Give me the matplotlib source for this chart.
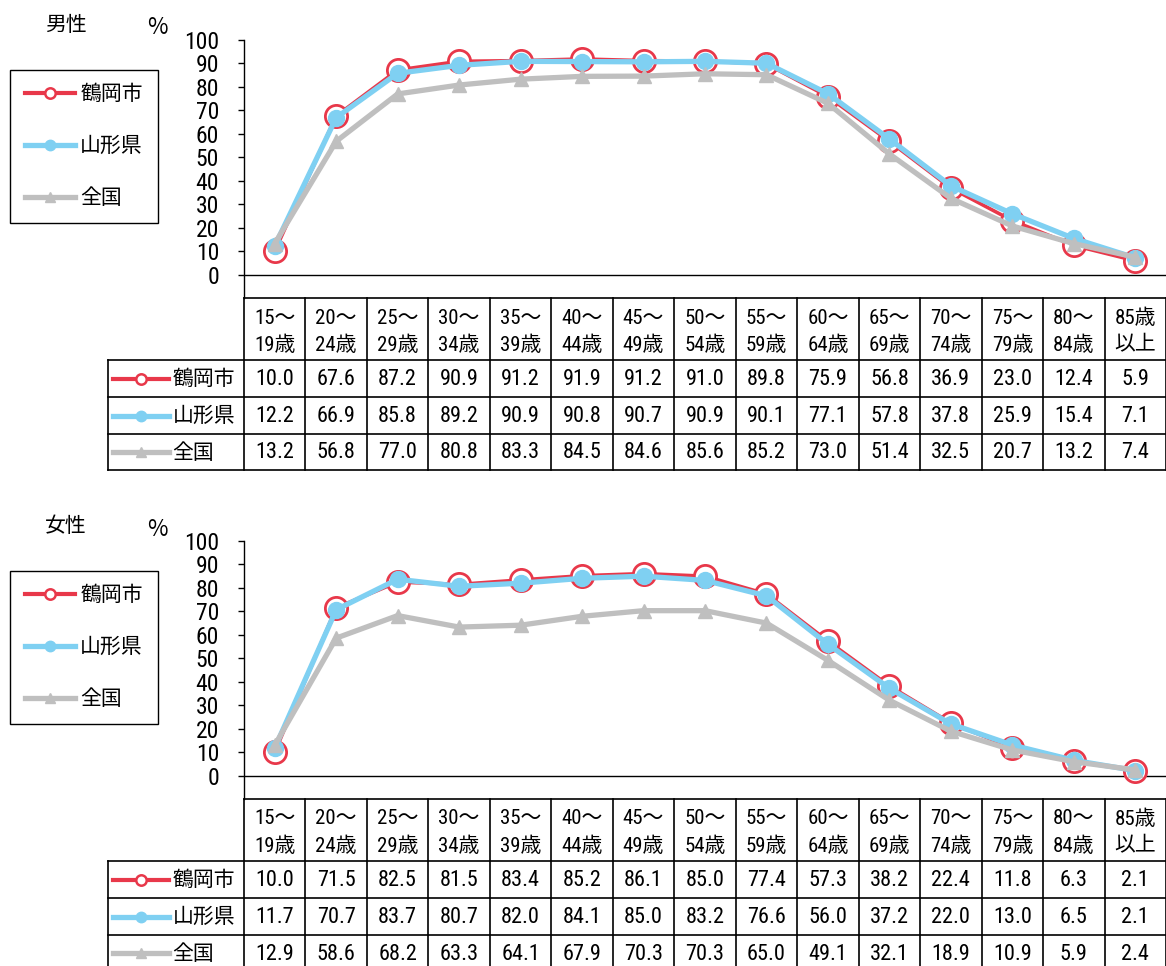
import matplotlib
matplotlib.use('Agg')
import matplotlib.pyplot as plt
from matplotlib import font_manager
from matplotlib.lines import Line2D

# pick a narrow latin face if there is one, CJK glyphs from Noto
have = {f.name for f in font_manager.fontManager.ttflist}
narrow = [f for f in ['Liberation Sans Narrow', 'Roboto Condensed', 'Open Sans Condensed',
                      'DejaVu Sans Condensed'] if f in have]
plt.rcParams['font.family'] = narrow[:1] + ['Noto Sans CJK JP']
if not narrow and any(f.name == 'DejaVu Sans' and f.stretch == 'condensed'
                      for f in font_manager.fontManager.ttflist):
    plt.rcParams['font.family'] = ['DejaVu Sans', 'Noto Sans CJK JP']
    plt.rcParams['font.stretch'] = 'condensed'

# Age groups (two-line header of the table)
age_top = ['15～', '20～', '25～', '30～', '35～', '40～', '45～', '50～',
           '55～', '60～', '65～', '70～', '75～', '80～', '85歳']
age_bot = ['19歳', '24歳', '29歳', '34歳', '39歳', '44歳', '49歳', '54歳',
           '59歳', '64歳', '69歳', '74歳', '79歳', '84歳', '以上']
names = ['鶴岡市', '山形県', '全国']

# 男性
male_tsuruoka = [10.0, 67.6, 87.2, 90.9, 91.2, 91.9, 91.2, 91.0, 89.8, 75.9, 56.8, 36.9, 23.0, 12.4, 5.9]
male_yamagata = [12.2, 66.9, 85.8, 89.2, 90.9, 90.8, 90.7, 90.9, 90.1, 77.1, 57.8, 37.8, 25.9, 15.4, 7.1]
male_zenkoku = [13.2, 56.8, 77.0, 80.8, 83.3, 84.5, 84.6, 85.6, 85.2, 73.0, 51.4, 32.5, 20.7, 13.2, 7.4]

# 女性
female_tsuruoka = [10.0, 71.5, 82.5, 81.5, 83.4, 85.2, 86.1, 85.0, 77.4, 57.3, 38.2, 22.4, 11.8, 6.3, 2.1]
female_yamagata = [11.7, 70.7, 83.7, 80.7, 82.0, 84.1, 85.0, 83.2, 76.6, 56.0, 37.2, 22.0, 13.0, 6.5, 2.1]
female_zenkoku = [12.9, 58.6, 68.2, 63.3, 64.1, 67.9, 70.3, 70.3, 65.0, 49.1, 32.1, 18.9, 10.9, 5.9, 2.4]

RED = '#E8384A'
BLUE = '#7FD0F2'
GRAY = '#BFBFBF'

W, H = 1166, 966
fig = plt.figure(figsize=(W / 100, H / 100), dpi=100)


def px_axes(x0, y0, x1, y1):
    return fig.add_axes([x0 / W, 1 - y1 / H, (x1 - x0) / W, (y1 - y0) / H])


styles = [
    dict(color=RED, lw=2.6, marker='o', ms=16, mfc='white', mec=RED, mew=2.0),
    dict(color=BLUE, lw=3.8, marker='o', ms=11.5, mfc=BLUE, mec=BLUE),
    dict(color=GRAY, lw=3.8, marker='^', ms=10, mfc=GRAY, mec=GRAY),
]
small = [
    dict(color=RED, lw=3.0, marker='o', ms=7.5, mfc='white', mec=RED, mew=1.8),
    dict(color=BLUE, lw=3.8, marker='o', ms=7.5, mfc=BLUE, mec=BLUE),
    dict(color=GRAY, lw=3.8, marker='^', ms=7, mfc=GRAY, mec=GRAY),
]


def panel(top, title, series):
    n = len(age_top)
    x = list(range(n))

    # line chart
    ax = px_axes(244, top + 40, W, top + 298)
    for vals, st, z in zip(series, styles, [2, 3, 4]):
        ax.plot(x, vals, zorder=z, clip_on=False, **st)
    ax.axhline(0, color='black', lw=1, zorder=1)
    ax.set_xlim(-0.5, n - 0.5)
    ax.set_ylim(-10, 100)
    ax.set_yticks(range(0, 101, 10))
    ax.set_xticks([])
    for s in ['top', 'right', 'bottom']:
        ax.spines[s].set_visible(False)
    ax.spines['left'].set_linewidth(1)
    ax.tick_params(axis='y', direction='out', length=4, width=1, labelsize=17, pad=14)

    fig.text(45 / W, 1 - (top + 25) / H, title, fontsize=15, va='center', ha='left')
    fig.text(147 / W, 1 - (top + 28) / H, '%', fontsize=16, va='center', ha='left',
             family=['Noto Sans CJK JP'])

    # legend box
    handles = [Line2D([], [], **st) for st in small]
    fig.legend(handles, names, loc='upper left',
               bbox_to_anchor=(10 / W, 1 - (top + 70) / H),
               fontsize=15, frameon=True, fancybox=False, edgecolor='black',
               framealpha=1, handlelength=2.4, handletextpad=0.25,
               labelspacing=1.55, borderpad=0.72, borderaxespad=0)

    # data table
    lab_w = (244 - 108) / ((W - 244) / n)
    tb = px_axes(108, top + 298, W, top + 470)
    tb.set_xlim(-0.5 - lab_w, n - 0.5)
    tb.set_ylim(172, 0)
    tb.axis('off')
    rows = [0, 62, 99, 136, 172]
    left = -0.5 - lab_w
    tb.plot([-0.5, n - 0.5], [0, 0], color='black', lw=1.2, clip_on=False)
    for yb in rows[1:]:
        tb.plot([left, n - 0.5], [yb, yb], color='black', lw=1.2, clip_on=False)
    for i in range(n + 1):
        tb.plot([i - 0.5, i - 0.5], [0, 172], color='black', lw=1.2, clip_on=False)
    tb.plot([left, left], [62, 172], color='black', lw=1.2, clip_on=False)

    for i in range(n):
        tb.text(i, 20, age_top[i], ha='center', va='center', fontsize=15)
        tb.text(i, 47, age_bot[i], ha='center', va='center', fontsize=15)
    for r, (vals, st) in enumerate(zip(series, small)):
        yc = (rows[r + 1] + rows[r + 2]) / 2
        tb.plot([left + 0.08, left + 1.0], [yc, yc], **{k: v for k, v in st.items() if k != 'marker'})
        tb.plot([left + 0.54], [yc], **st)
        tb.text(left + 1.05, yc + 1, names[r], ha='left', va='center', fontsize=15)
        for i, v in enumerate(vals):
            tb.text(i, yc + 1, f'{v:.1f}', ha='center', va='center', fontsize=16)


panel(0, '男性', [male_tsuruoka, male_yamagata, male_zenkoku])
panel(501, '女性', [female_tsuruoka, female_yamagata, female_zenkoku])

fig.savefig('out.png', dpi=100)
